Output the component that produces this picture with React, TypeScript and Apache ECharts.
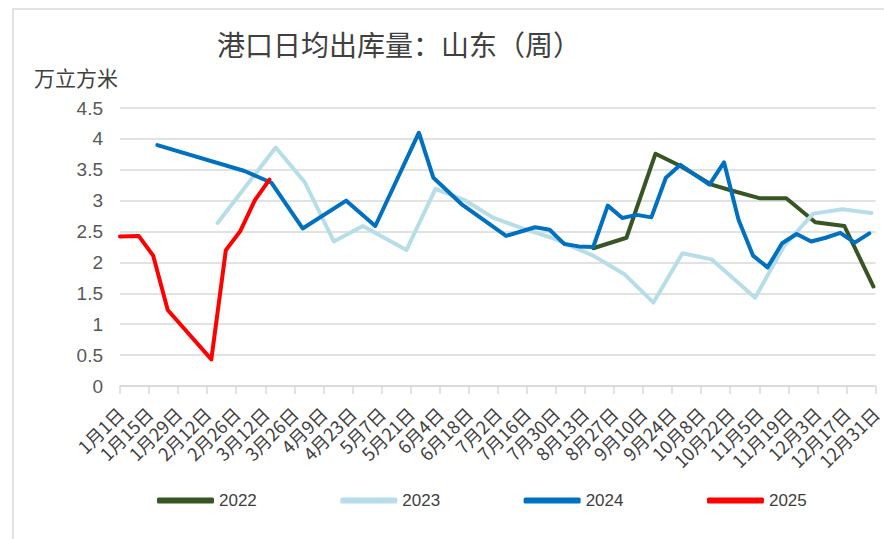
import React, { useEffect, useRef } from "react";
import * as echarts from "echarts";

const tickLabels = [
  "1月1日", "1月15日", "1月29日", "2月12日", "2月26日", "3月12日", "3月26日",
  "4月9日", "4月23日", "5月7日", "5月21日", "6月4日", "6月18日", "7月2日",
  "7月16日", "7月30日", "8月13日", "8月27日", "9月10日", "9月24日", "10月8日",
  "10月22日", "11月5日", "11月19日", "12月3日", "12月17日", "12月31日",
];

const seriesNames = ["2022", "2023", "2024", "2025"];

const dates2022 = ["08-17", "09-02", "09-16", "09-28", "10-13", "10-23", "11-05", "11-18", "12-02", "12-16", "12-30"];
const values2022 = [2.23, 2.4, 3.76, 3.56, 3.26, 3.16, 3.04, 3.04, 2.65, 2.59, 1.61];

const dates2023 = ["02-17", "03-17", "03-31", "04-14", "04-28", "05-19", "06-02", "06-16", "06-30", "07-14", "07-28", "08-17", "09-01", "09-15", "09-29", "10-13", "11-03", "11-17", "12-01", "12-15", "12-29"];
const values2023 = [2.64, 3.86, 3.3, 2.34, 2.59, 2.2, 3.19, 3.01, 2.72, 2.55, 2.4, 2.11, 1.81, 1.35, 2.15, 2.05, 1.43, 2.27, 2.79, 2.86, 2.8];

const dates2024 = ["01-19", "03-02", "03-15", "03-30", "04-20", "05-04", "05-25", "06-01", "06-15", "07-06", "07-20", "07-27", "08-03", "08-10", "08-17", "08-24", "08-31", "09-07", "09-14", "09-21", "09-28", "10-12", "10-19", "10-26", "11-02", "11-09", "11-16", "11-23", "11-30", "12-07", "12-14", "12-21", "12-28"];
const values2024 = [3.9, 3.48, 3.29, 2.55, 3.0, 2.59, 4.1, 3.37, 2.93, 2.43, 2.57, 2.53, 2.3, 2.26, 2.25, 2.92, 2.72, 2.77, 2.73, 3.37, 3.58, 3.26, 3.62, 2.69, 2.11, 1.92, 2.31, 2.46, 2.34, 2.4, 2.48, 2.32, 2.47];

const dates2025 = ["01-01", "01-10", "01-17", "01-24", "02-14", "02-21", "02-28", "03-07", "03-14"];
const values2025 = [2.42, 2.43, 2.11, 1.23, 0.43, 2.2, 2.51, 3.01, 3.34];

const colors = ["#375623", "#b7dee8", "#0070c0", "#ff0000"];

const monthStart = [0, 31, 59, 90, 120, 151, 181, 212, 243, 273, 304, 334];
function dayOfYear(md: string): number {
  const [m, d] = md.split("-").map(Number);
  return monthStart[m - 1] + d - 1;
}
function pairs(dates: string[], values: number[]) {
  return dates.map((d, i) => [dayOfYear(d), values[i]]);
}

export default function App() {
  const ref = useRef<HTMLDivElement>(null);
  useEffect(() => {
    if (!ref.current) return;
    const chart = echarts.init(ref.current, undefined, { renderer: "svg" });
    const allData = [
      pairs(dates2022, values2022),
      pairs(dates2023, values2023),
      pairs(dates2024, values2024),
      pairs(dates2025, values2025),
    ];
    chart.setOption({
      animation: false,
      backgroundColor: "#ffffff",
      title: {
        text: "港口日均出库量：山东（周）",
        left: 212,
        top: 25,
        textStyle: {
          fontFamily: "Noto Sans CJK SC",
          fontSize: 28,
          fontWeight: "normal",
          color: "#404040",
        },
      },
      graphic: [
        {
          type: "rect",
          shape: { x: 13, y: 9, width: 900, height: 560 },
          style: { fill: "none", stroke: "#d9d9d9", lineWidth: 1.5 },
          silent: true,
        },
        {
          type: "text",
          x: 118,
          y: 77,
          style: {
            text: "万立方米",
            align: "right",
            verticalAlign: "middle",
            fontFamily: "Noto Sans CJK SC",
            fontSize: 21,
            fill: "#404040",
          },
        },
      ],
      legend: {
        data: seriesNames,
        left: 152,
        top: 487,
        icon: "roundRect",
        itemWidth: 57,
        itemHeight: 6,
        itemGap: 83.5,
        textStyle: {
          fontFamily: "Liberation Sans",
          fontSize: 17,
          color: "#404040",
        },
      },
      grid: {
        left: 120,
        right: 6,
        top: 108,
        bottom: 153,
        containLabel: false,
      },
      xAxis: {
        type: "value",
        min: 0,
        max: 364,
        interval: 14,
        axisLine: { show: true, lineStyle: { color: "#d9d9d9", width: 1.5 } },
        axisTick: { show: true, length: 8, lineStyle: { color: "#d9d9d9", width: 1.5 } },
        splitLine: { show: false },
        axisLabel: {
          rotate: 45,
          margin: 24,
          fontFamily: "Noto Sans CJK SC",
          fontSize: 18,
          color: "#404040",
          formatter: (v: number) => tickLabels[Math.round(v / 14)] ?? "",
        },
      },
      yAxis: {
        type: "value",
        min: 0,
        max: 4.5,
        interval: 0.5,
        axisLine: { show: false },
        axisTick: { show: false },
        splitLine: { show: true, lineStyle: { color: "#d9d9d9", width: 1.5 } },
        axisLabel: {
          margin: 17,
          fontFamily: "Liberation Sans",
          fontSize: 19,
          color: "#595959",
        },
      },
      series: seriesNames.map((name, i) => ({
        name,
        type: "line",
        data: allData[i],
        showSymbol: false,
        symbol: "none",
        z: 2 + i,
        itemStyle: { color: colors[i] },
        lineStyle: { color: colors[i], width: 4, join: "round", cap: "round" },
      })),
    });
    return () => chart.dispose();
  }, []);
  return (
    <div
      ref={ref}
      style={{ position: "absolute", left: 0, top: 0, width: 884, height: 539 }}
    />
  );
}
